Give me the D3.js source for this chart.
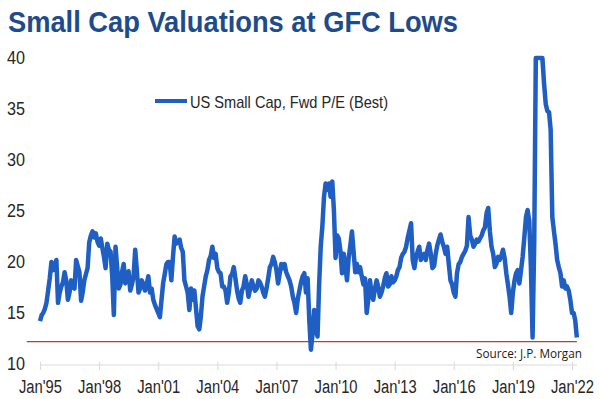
<!DOCTYPE html>
<html lang="en">
<head>
<meta charset="utf-8">
<title>Small Cap Valuations at GFC Lows</title>
<script src="https://d3js.org/d3.v7.min.js"></script>
<style>
  body { margin: 0; background: #fff; }
  svg text { font-family: "Liberation Sans Narrow", "Arial Narrow", "Liberation Sans", Arial, sans-serif; }
</style>
</head>
<body>
<svg width="601" height="399"></svg>
<script>
// monthly fwd P/E, first value = Jan 1995
var startMonth = "1995-01";
var peValues = [
  14.2, 14.8, 15.0, 15.4, 16.0, 17.2, 18.4, 20.0, 19.2, 19.6, 20.2, 16.0, // 1995
  17.0, 17.6, 18.0, 19.0, 18.2, 16.3, 17.0, 18.2, 17.6, 17.4, 20.2, 19.6, // 1996
  19.0, 16.2, 17.0, 18.2, 18.8, 19.4, 21.9, 22.6, 23.0, 22.4, 22.8, 22.0, // 1997
  21.6, 22.3, 21.4, 20.5, 19.4, 21.8, 21.2, 21.0, 18.6, 14.8, 21.5, 19.5, // 1998
  17.4, 17.8, 19.0, 19.8, 17.9, 18.4, 19.1, 17.2, 17.8, 18.6, 21.2, 19.2, // 1999
  17.0, 17.4, 18.2, 17.8, 17.2, 17.8, 18.6, 17.0, 17.4, 16.3, 15.8, 15.4, // 2000
  15.0, 14.6, 16.2, 17.9, 18.8, 19.8, 20.0, 20.0, 18.2, 20.5, 22.5, 21.8, // 2001
  22.0, 22.2, 21.4, 21.0, 18.2, 17.6, 17.0, 15.3, 17.4, 16.3, 17.2, 15.5, // 2002
  13.7, 13.4, 14.6, 16.6, 17.6, 18.6, 19.2, 20.2, 20.6, 21.5, 20.4, 20.8, // 2003
  19.4, 19.0, 18.9, 17.6, 17.6, 17.2, 16.0, 17.0, 18.6, 18.8, 19.5, 18.4, // 2004
  17.2, 16.4, 16.0, 17.2, 17.6, 18.6, 17.8, 16.6, 17.4, 18.2, 17.6, 17.2, // 2005
  17.4, 18.2, 18.0, 17.6, 17.0, 16.6, 17.4, 18.4, 19.5, 19.8, 20.5, 20.0, // 2006
  19.2, 17.9, 18.8, 19.8, 19.4, 19.8, 19.0, 18.6, 18.2, 17.6, 16.6, 16.0, // 2007
  15.0, 16.4, 17.2, 18.0, 18.6, 18.9, 17.0, 18.4, 14.3, 11.4, 13.0, 15.3, // 2008
  13.4, 12.7, 17.6, 21.5, 23.5, 26.4, 27.7, 27.1, 27.7, 26.4, 27.9, 25.1, // 2009
  20.4, 22.6, 22.3, 21.1, 18.9, 20.8, 19.6, 18.2, 20.4, 21.6, 23.0, 21.0, // 2010
  19.0, 19.8, 19.0, 19.5, 18.6, 17.8, 18.4, 15.0, 16.4, 18.2, 16.8, 16.3, // 2011
  17.4, 18.2, 17.6, 16.6, 17.0, 17.6, 18.4, 18.9, 17.6, 17.8, 18.6, 18.0, // 2012
  18.2, 18.6, 19.2, 19.5, 20.4, 20.8, 21.0, 21.5, 22.4, 23.1, 23.8, 20.2, // 2013
  19.4, 20.5, 21.0, 21.5, 20.2, 20.6, 20.8, 20.2, 21.2, 21.8, 20.8, 19.4, // 2014
  19.6, 20.8, 21.6, 22.2, 22.7, 22.0, 21.5, 20.8, 21.5, 19.8, 18.2, 17.8, // 2015
  17.0, 16.6, 18.9, 19.8, 20.0, 20.5, 20.8, 21.1, 21.6, 24.4, 22.6, 22.2, // 2016
  21.5, 21.8, 22.2, 22.0, 22.3, 22.6, 23.1, 23.4, 24.8, 25.3, 23.0, 21.5, // 2017
  20.8, 19.5, 19.8, 20.5, 20.2, 20.6, 21.2, 20.4, 18.9, 17.8, 16.6, 15.0, // 2018
  17.0, 18.2, 18.9, 19.2, 17.9, 19.2, 20.5, 22.4, 24.4, 25.1, 24.0, 19.5, // 2019
  12.6, 22.0, 40.0, 40.0, 40.0, 40.0, 40.0, 37.5, 35.5, 34.8, 34.7, 33.0, // 2020
  24.4, 23.0, 21.8, 20.2, 19.5, 18.9, 17.6, 18.2, 17.4, 17.6, 17.2, 16.3, // 2021
  15.0, 15.0, 14.3, 12.6                                                  // 2022
];

var yTicks = [10, 15, 20, 25, 30, 35, 40];
var xTickYears = [1995, 1998, 2001, 2004, 2007, 2010, 2013, 2016, 2019, 2022];
var xTickLabels = ["Jan'95", "Jan'98", "Jan'01", "Jan'04", "Jan'07", "Jan'10", "Jan'13", "Jan'16", "Jan'19", "Jan'22"];

var seriesName = "US Small Cap, Fwd P/E (Best)";
var floorLevel = 12.2;
var floorSpan = ["1994-05", "2022-04"];

var svg = d3.select("svg");
var parseMonth = d3.timeParse("%Y-%m");
var start = parseMonth(startMonth);

var data = peValues.map(function(v, i) {
  return { date: d3.timeMonth.offset(start, i), value: v };
});

var x = d3.scaleTime()
  .domain([new Date(1995, 0, 1), new Date(2022, 0, 1)])
  .range([40, 572]);
var y = d3.scaleLinear()
  .domain([10, 40])
  .range([364, 58]);

// no narrow font installed, so squeeze text to the reference widths
function squeeze(sel, w) {
  sel.attr("textLength", w).attr("lengthAdjust", "spacingAndGlyphs");
}

// title
svg.append("text")
  .attr("x", 8)
  .attr("y", 32)
  .style("font-size", "30px")
  .style("font-weight", "bold")
  .style("fill", "#1d4b8c")
  .text("Small Cap Valuations at GFC Lows")
  .call(squeeze, 450);

// y labels (no axis line)
svg.append("g").selectAll("text")
  .data(yTicks)
  .enter().append("text")
  .attr("x", 25)
  .attr("y", function(d) { return y(d); })
  .attr("dy", "0.35em")
  .attr("text-anchor", "end")
  .style("font-size", "18px")
  .style("fill", "#262626")
  .text(function(d) { return d; })
  .call(squeeze, 18);

// x axis
var xAxis = d3.axisBottom(x)
  .tickValues(xTickYears.map(function(yr) { return new Date(yr, 0, 1); }))
  .tickFormat(function(d, i) { return xTickLabels[i]; })
  .tickSizeInner(5)
  .tickSizeOuter(0)
  .tickPadding(10);

var gx = svg.append("g")
  .attr("transform", "translate(0," + (y(10) + 1) + ")")
  .call(xAxis);
gx.attr("font-family", null).attr("font-size", null);
gx.select(".domain")
  .attr("d", "M" + x(new Date(1995, 0, 1)) + ",0H" + x(parseMonth("2022-04")))
  .attr("stroke", "#d9d9d9");
gx.selectAll(".tick line").attr("stroke", "#d9d9d9").attr("y1", -3);
gx.selectAll(".tick text")
  .style("font-size", "18px")
  .style("fill", "#262626")
  .call(squeeze, 43);

// red floor line
svg.append("line")
  .attr("x1", x(parseMonth(floorSpan[0])))
  .attr("x2", x(parseMonth(floorSpan[1])))
  .attr("y1", y(floorLevel))
  .attr("y2", y(floorLevel))
  .attr("stroke", "#b5403a")
  .attr("stroke-width", 1.2);

// series
var line = d3.line()
  .x(function(d) { return x(d.date); })
  .y(function(d) { return y(d.value); });

svg.append("path")
  .datum(data)
  .attr("d", line)
  .attr("fill", "none")
  .attr("stroke", "#1f5fc4")
  .attr("stroke-width", 4.5)
  .attr("stroke-linejoin", "round");

// legend
svg.append("line")
  .attr("x1", 155).attr("x2", 187)
  .attr("y1", 101).attr("y2", 101)
  .attr("stroke", "#1f5fc4")
  .attr("stroke-width", 4);
svg.append("text")
  .attr("x", 190)
  .attr("y", 102)
  .attr("dy", "0.35em")
  .style("font-size", "17px")
  .style("fill", "#262626")
  .text(seriesName)
  .call(squeeze, 198);

// source note
svg.append("text")
  .attr("x", 476)
  .attr("y", 354)
  .attr("dy", "0.35em")
  .style("font-family", "'Open Sans', 'Noto Sans', sans-serif")
  .style("font-size", "12px")
  .style("fill", "#1a1a1a")
  .text("Source: J.P. Morgan")
  .call(squeeze, 106);
</script>
</body>
</html>
